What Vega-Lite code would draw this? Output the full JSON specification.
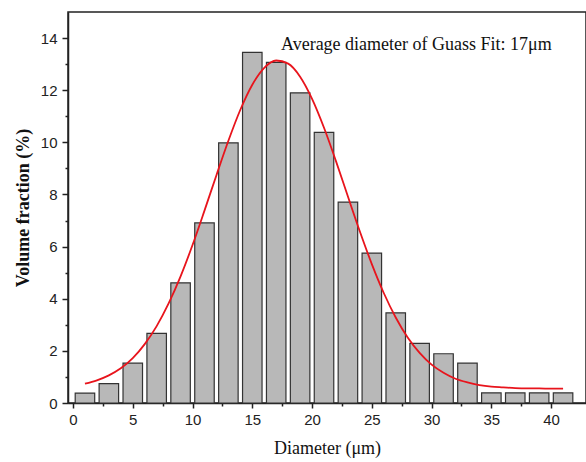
{
  "$schema": "https://vega.github.io/schema/vega-lite/v6.json",
  "width": 518,
  "height": 391,
  "autosize": "none",
  "padding": {"left": 68, "top": 12, "right": 0, "bottom": 59},
  "background": "white",
  "config": {
    "view": {"stroke": "#222", "strokeWidth": 1.5},
    "axis": {"grid": false, "domainColor": "#222", "domainWidth": 1.5, "tickColor": "#222", "tickWidth": 1.5,
             "labelFont": "Liberation Sans", "labelFontSize": 15, "labelColor": "#222",
             "titleFont": "Liberation Serif", "titleFontSize": 18, "titleColor": "#111"}
  },
  "datasets": {
    "bars": [
      {"d": 1, "v": 0.38}, {"d": 3, "v": 0.74}, {"d": 5, "v": 1.53}, {"d": 7, "v": 2.67},
      {"d": 9, "v": 4.61}, {"d": 11, "v": 6.91}, {"d": 13, "v": 9.98}, {"d": 15, "v": 13.45},
      {"d": 17, "v": 13.07}, {"d": 19, "v": 11.9}, {"d": 21, "v": 10.38}, {"d": 23, "v": 7.71},
      {"d": 25, "v": 5.75}, {"d": 27, "v": 3.46}, {"d": 29, "v": 2.29}, {"d": 31, "v": 1.89},
      {"d": 33, "v": 1.53}, {"d": 35, "v": 0.39}, {"d": 37, "v": 0.39}, {"d": 39, "v": 0.39},
      {"d": 41, "v": 0.39}
    ],
    "fit": [
      {"d": 1, "v": 0.74}, {"d": 2, "v": 0.87}, {"d": 3, "v": 1.06}, {"d": 4, "v": 1.33},
      {"d": 5, "v": 1.72}, {"d": 6, "v": 2.26}, {"d": 7, "v": 2.95}, {"d": 8, "v": 3.82},
      {"d": 9, "v": 4.86}, {"d": 10, "v": 6.06}, {"d": 11, "v": 7.38}, {"d": 12, "v": 8.74},
      {"d": 13, "v": 10.06}, {"d": 14, "v": 11.25}, {"d": 15, "v": 12.21}, {"d": 16, "v": 12.86},
      {"d": 17, "v": 13.14}, {"d": 18, "v": 13.02}, {"d": 19, "v": 12.52}, {"d": 20, "v": 11.67},
      {"d": 21, "v": 10.56}, {"d": 22, "v": 9.28}, {"d": 23, "v": 7.92}, {"d": 24, "v": 6.58},
      {"d": 25, "v": 5.33}, {"d": 26, "v": 4.22}, {"d": 27, "v": 3.28}, {"d": 28, "v": 2.51},
      {"d": 29, "v": 1.92}, {"d": 30, "v": 1.47}, {"d": 31, "v": 1.16}, {"d": 32, "v": 0.93},
      {"d": 33, "v": 0.79}, {"d": 34, "v": 0.69}, {"d": 35, "v": 0.63}, {"d": 36, "v": 0.6},
      {"d": 37, "v": 0.57}, {"d": 38, "v": 0.56}, {"d": 39, "v": 0.56}, {"d": 40, "v": 0.55},
      {"d": 41, "v": 0.55}
    ]
  },
  "resolve": {"axis": {"x": "independent", "y": "independent"}},
  "layer": [
    {
      "data": {"name": "bars"},
      "mark": {"type": "bar", "width": 19.5, "fill": "#b8b8b8", "stroke": "#333", "strokeWidth": 1.2},
      "encoding": {
        "x": {"field": "d", "type": "quantitative", "scale": {"domain": [0, 42.5], "nice": false, "zero": false},
              "axis": {"title": "Diameter (\u03bcm)", "values": [0, 5, 10, 15, 20, 25, 30, 35, 40], "tickSize": 5,
                       "labelPadding": 4, "titlePadding": 12, "titleFontWeight": "normal"}},
        "y": {"field": "v", "type": "quantitative", "scale": {"domain": [0, 15], "nice": false},
              "axis": {"title": "Volume fraction (%)", "values": [0, 2, 4, 6, 8, 10, 12, 14], "tickSize": 6,
                       "labelPadding": 5, "titlePadding": 8, "titleFontWeight": "bold"}}
      }
    },
    {
      "data": {"name": "fit"},
      "mark": {"type": "line", "color": "#e8141c", "strokeWidth": 1.8, "interpolate": "monotone"},
      "encoding": {
        "x": {"field": "d", "type": "quantitative", "scale": {"domain": [0, 42.5], "nice": false, "zero": false},
              "axis": {"orient": "bottom", "title": null, "labels": false, "domain": false,
                       "values": [2.5, 7.5, 12.5, 17.5, 22.5, 27.5, 32.5, 37.5], "tickSize": 3}},
        "y": {"field": "v", "type": "quantitative", "scale": {"domain": [0, 15], "nice": false},
              "axis": {"orient": "left", "title": null, "labels": false, "domain": false,
                       "values": [1, 3, 5, 7, 9, 11, 13], "tickSize": 3}}
      }
    },
    {
      "data": {"values": [{}]},
      "mark": {"type": "text", "text": "Average diameter of Guass Fit: 17\u03bcm", "font": "Liberation Serif",
               "fontSize": 18, "align": "left", "baseline": "middle", "color": "#111"},
      "encoding": {
        "x": {"datum": 17.4, "type": "quantitative", "scale": {"domain": [0, 42.5], "nice": false, "zero": false}, "axis": null},
        "y": {"datum": 13.75, "type": "quantitative", "scale": {"domain": [0, 15], "nice": false}, "axis": null}
      }
    }
  ]
}
